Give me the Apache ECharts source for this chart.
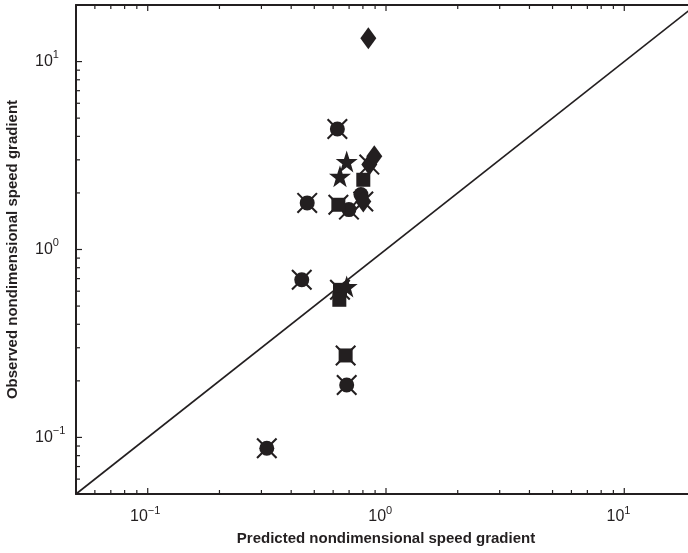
<!DOCTYPE html>
<html>
<head>
<meta charset="utf-8">
<script src="https://cdn.jsdelivr.net/npm/echarts@6/dist/echarts.min.js"></script>
<style>
  html, body { margin: 0; padding: 0; background: #fff; }
  #chart { width: 688px; height: 553px; }
</style>
</head>
<body>
<div id="chart"></div>
<script>
// Axis ranges (log scales)
const xMin = 0.05, xMax = 20;
const yMin = 0.05, yMax = 20;

// Decade tick values and the minor 2..9 ticks between them
const majorTicks = [0.1, 1, 10];
const minorTicks = [0.06, 0.07, 0.08, 0.09,
                    0.2, 0.3, 0.4, 0.5, 0.6, 0.7, 0.8, 0.9,
                    2, 3, 4, 5, 6, 7, 8, 9];

// [predicted, observed] pairs, grouped by marker
const circlesCrossed  = [[0.625, 4.38], [0.467, 1.77], [0.699, 1.63], [0.443, 0.690], [0.684, 0.190], [0.316, 0.0876]];
const circlesPlain    = [[0.785, 1.96]];
const squaresCrossed  = [[0.631, 1.73], [0.641, 0.61], [0.677, 0.273]];
const squaresPlain    = [[0.803, 2.35], [0.637, 0.54]];
const diamondsCrossed = [[0.851, 2.83], [0.803, 1.80]];
const diamondsPlain   = [[0.843, 13.3], [0.893, 3.13]];
const stars           = [[0.684, 2.94], [0.641, 2.45], [0.684, 0.635]];

// 1:1 reference line
const identityLine = [[xMin, yMin], [xMax, yMax]];

const INK = '#231f20';
const FONT = '"Liberation Sans", Arial, Helvetica, sans-serif';
const STAR = 'path://M50,0 L61.8,35.1 L98.1,35.1 L68.8,56.7 L79.4,90.9 L50,69.5 L20.6,90.9 L31.2,56.7 L1.9,35.1 L38.2,35.1 Z';
const CROSS = 'path://M0,0.7 L0.7,0 L10,9.3 L9.3,10 Z M9.3,0 L10,0.7 L0.7,10 L0,9.3 Z';

function isDecade(v) {
  const e = Math.log10(v);
  return Math.abs(e - Math.round(e)) < 1e-6;
}
// "10" with a raised exponent; the exponent style pads the right side so
// that the "10" part ends at the tick when the label is centred.
function xPowerLabel(v) {
  if (!isDecade(v)) return '';
  const e = Math.round(Math.log10(v));
  return e < 0 ? '{b|10}{sn|\u2212' + (-e) + '}' : '{b|10}{sp|' + e + '}';
}
function yPowerLabel(v) {
  if (!isDecade(v)) return '';
  const e = Math.round(Math.log10(v));
  return '{b|10}{s|' + (e < 0 ? '\u2212' + (-e) : e) + '}';
}
const supBase = { fontSize: 11, fontFamily: FONT, color: INK, lineHeight: 10, verticalAlign: 'top' };
const xLabelRich = {
  b: { fontSize: 16, fontFamily: FONT, color: INK, lineHeight: 24 },
  sn: Object.assign({}, supBase, { padding: [0, 5, 0, 0] }),
  sp: Object.assign({}, supBase, { padding: [0, 11.5, 0, 0] })
};
const yLabelRich = {
  b: { fontSize: 16, fontFamily: FONT, color: INK, lineHeight: 24 },
  s: supBase
};

// Tick marks drawn inward from all frame edges
const tickData = [];
majorTicks.forEach(v => tickData.push([v, 6]));
minorTicks.forEach(v => tickData.push([v, 4]));

function xTickItem(params, api) {
  const v = api.value(0), len = api.value(2);
  const b = api.coord([v, yMin]);
  const t = api.coord([v, yMax]);
  const st = { stroke: INK, lineWidth: 1.2 };
  return { type: 'group', children: [
    { type: 'line', shape: { x1: b[0], y1: b[1], x2: b[0], y2: b[1] - len }, style: st },
    { type: 'line', shape: { x1: t[0], y1: t[1], x2: t[0], y2: t[1] + len }, style: st }
  ]};
}
function yTickItem(params, api) {
  const v = api.value(1), len = api.value(2);
  const l = api.coord([xMin, v]);
  const r = api.coord([xMax, v]);
  const st = { stroke: INK, lineWidth: 1.2 };
  return { type: 'group', children: [
    { type: 'line', shape: { x1: l[0], y1: l[1], x2: l[0] + len, y2: l[1] }, style: st },
    { type: 'line', shape: { x1: r[0], y1: r[1], x2: r[0] - len, y2: r[1] }, style: st }
  ]};
}

const markerStyle = { color: INK, opacity: 1 };

function scatter(data, symbol, size) {
  return {
    type: 'scatter', data: data, symbol: symbol, symbolSize: size,
    itemStyle: markerStyle, z: 4, silent: true
  };
}

const crossed = circlesCrossed.concat(squaresCrossed, diamondsCrossed);

const chart = echarts.init(document.getElementById('chart'), null, { renderer: 'canvas' });
chart.setOption({
  animation: false,
  backgroundColor: '#fff',
  grid: { left: 76, top: 5, width: 620, bottom: 59, outerBoundsMode: 'none', containLabel: false },
  xAxis: [{
    type: 'log', logBase: 10, min: xMin, max: xMax,
    name: 'Predicted nondimensional speed gradient',
    nameLocation: 'middle', nameGap: 37,
    nameTextStyle: { fontFamily: FONT, fontSize: 15, fontWeight: 'bold', color: INK },
    axisLine: { show: true, onZero: false, lineStyle: { color: INK, width: 2 } },
    axisTick: { show: false },
    splitLine: { show: false },
    axisLabel: { formatter: xPowerLabel, rich: xLabelRich, margin: 11, align: 'center', showMinLabel: true, showMaxLabel: true }
  }, {
    type: 'log', logBase: 10, min: xMin, max: xMax, position: 'top',
    axisLine: { show: true, onZero: false, lineStyle: { color: INK, width: 2 } },
    axisTick: { show: false }, axisLabel: { show: false }, splitLine: { show: false }
  }],
  yAxis: [{
    type: 'log', logBase: 10, min: yMin, max: yMax,
    name: 'Observed nondimensional speed gradient',
    nameLocation: 'middle', nameGap: 56,
    nameTextStyle: { fontFamily: FONT, fontSize: 15, fontWeight: 'bold', color: INK },
    axisLine: { show: true, onZero: false, lineStyle: { color: INK, width: 2 } },
    axisTick: { show: false },
    splitLine: { show: false },
    axisLabel: { formatter: yPowerLabel, rich: yLabelRich, margin: 41, align: 'left' }
  }],
  series: [
    {
      type: 'line', data: identityLine, symbol: 'none', silent: true, z: 2,
      lineStyle: { color: INK, width: 1.6 }
    },
    {
      type: 'custom', renderItem: xTickItem, silent: true, z: 3,
      data: tickData.map(t => [t[0], 1, t[1]]), clip: false
    },
    {
      type: 'custom', renderItem: yTickItem, silent: true, z: 3,
      data: tickData.map(t => [1, t[0], t[1]]), clip: false
    },
    {
      type: 'scatter', data: crossed, symbol: CROSS, symbolSize: 21, silent: true, z: 3,
      itemStyle: { color: INK, opacity: 1 }
    },
    scatter(circlesCrossed, 'circle', 15),
    scatter(circlesPlain, 'circle', 15),
    scatter(squaresCrossed, 'rect', 14),
    scatter(squaresPlain, 'rect', 14),
    scatter(diamondsCrossed, 'diamond', [16, 22]),
    scatter(diamondsPlain, 'diamond', [16, 22]),
    scatter(stars, STAR, 22)
  ]
});
</script>
</body>
</html>
